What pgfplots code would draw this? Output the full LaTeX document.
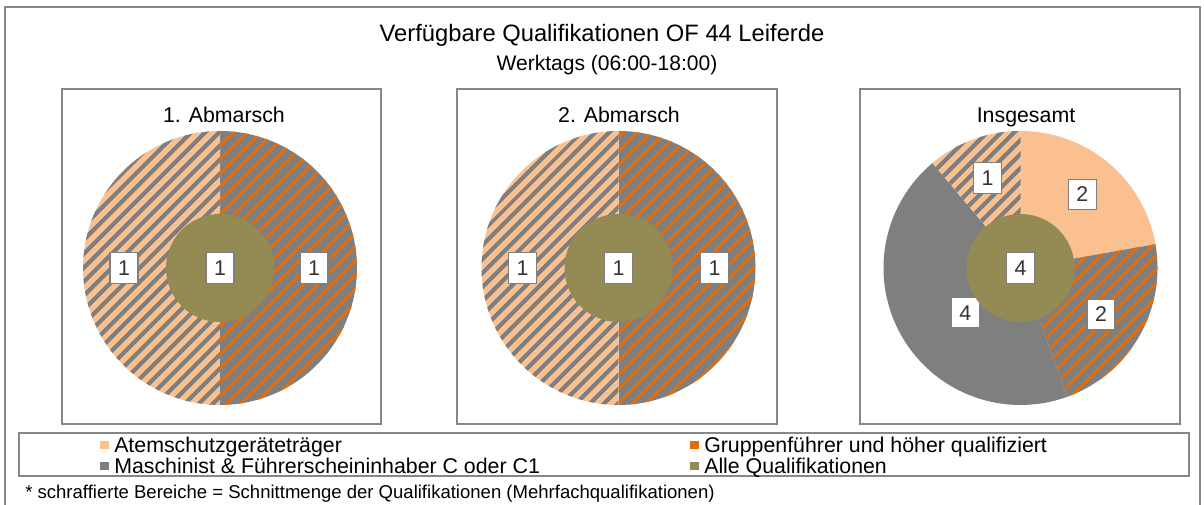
\documentclass[border=0pt]{standalone}
\usepackage{fontspec}
\setmainfont{Liberation Sans}
\usepackage{pgfplots}
\pgfplotsset{compat=1.18}
\usetikzlibrary{patterns.meta}

\definecolor{lightor}{HTML}{FAC090}
\definecolor{darkor}{HTML}{E46C0A}
\definecolor{grayc}{HTML}{7F7F7F}
\definecolor{olive}{HTML}{948A54}
\definecolor{framec}{HTML}{878787}

\tikzset{
  atem/.style={fill=lightor},
  masch/.style={fill=grayc},
  alle/.style={fill=olive},
  % schraffiert: Atemschutz + Maschinist
  atemmasch/.style={fill=lightor, postaction={pattern={Lines[angle=45,distance=7.4pt,line width=3.2pt]}, pattern color=grayc}},
  % schraffiert: Gruppenfuehrer + Maschinist
  gruppmasch/.style={fill=grayc, postaction={pattern={Lines[angle=45,distance=7.4pt,line width=2.3pt]}, pattern color=darkor}},
  lbl/.style={draw=grayc, line width=0.9pt, fill=white, text=black!80,
    font=\fontsize{16}{18}\selectfont, minimum width=21pt, minimum height=23pt, inner sep=1pt},
  pframe/.style={draw=framec, line width=1.1pt},
}
\pgfplotsset{
  pie axis/.style={hide axis, x=0.75pt, y=0.75pt, xmin=-140, xmax=140, ymin=-140, ymax=140,
    anchor=origin, clip=false},
}

% running total of one ring
\newcommand{\piestart}[2]{\gdef\piecum{0}\gdef\pietot{#1}\gdef\R{#2}}
% [label angle shift]{value}{style}{label radius}
\newcommand{\slice}[4][0]{%
  \pgfmathsetmacro\aA{90-360*\piecum/\pietot}%
  \pgfmathsetmacro\newcum{\piecum+#2}%
  \pgfmathsetmacro\aB{90-360*\newcum/\pietot}%
  \pgfmathsetmacro\aM{(\aA+\aB)/2+#1}%
  \addplot[#3, draw=none, domain=\aB:\aA, samples=90, variable=\t]
    ({\R*cos(\t)},{\R*sin(\t)}) -- (axis cs:0,0) -- cycle;
  \pgfmathsetmacro\lx{#4*cos(\aM)}%
  \pgfmathsetmacro\ly{#4*sin(\aM)}%
  \edef\tmp{\noexpand\node[lbl] at (axis cs:\lx,\ly) {#2};}\tmp
  \xdef\piecum{\newcum}%
}

\begin{document}
\begin{tikzpicture}[x=0.75pt,y=0.75pt]
\useasboundingbox (0,0) rectangle (1204,505);
\fill[white] (0,0) rectangle (1204,505);
\draw[draw=framec, line width=0.9pt] (5,498) rectangle (1200,-10);

\node[anchor=base, font=\fontsize{17.8}{20}\selectfont] at (602,463.5) {Verfügbare Qualifikationen OF 44 Leiferde};
\node[anchor=base, font=\fontsize{15.8}{18}\selectfont] at (607,434.5) {Werktags (06:00-18:00)};

\draw[pframe] (62,416) rectangle (381,81);
\draw[pframe] (457,416) rectangle (777,81);
\draw[pframe] (860,416) rectangle (1180,81);

\begin{scope}[every node/.style={anchor=base, font=\fontsize{16}{18}\selectfont}]
\node at (224,382.4) {1. Abmarsch};
\node at (619,382.4) {2. Abmarsch};
\node at (1026,382.4) {Insgesamt};
\end{scope}

% 1. Abmarsch
\begin{axis}[pie axis, at={({220*0.75pt},{237*0.75pt})}]
  \piestart{2}{137}
  \slice{1}{gruppmasch}{94}
  \slice{1}{atemmasch}{96}
  \piestart{1}{54}
  \slice{1}{alle}{0}
\end{axis}

% 2. Abmarsch
\begin{axis}[pie axis, at={({618.5*0.75pt},{237*0.75pt})}]
  \piestart{2}{137}
  \slice{1}{gruppmasch}{96}
  \slice{1}{atemmasch}{96}
  \piestart{1}{54}
  \slice{1}{alle}{0}
\end{axis}

% Insgesamt
\begin{axis}[pie axis, at={({1020.5*0.75pt},{237*0.75pt})}]
  \piestart{9}{137}
  \slice{2}{atem}{96}
  \slice{2}{gruppmasch}{93}
  \slice[9]{4}{masch}{71}
  \slice{1}{atemmasch}{96}
  \piestart{4}{54}
  \slice{4}{alle}{0}
\end{axis}

% legend
\draw[pframe] (19,72) rectangle (1189,29);
\fill[lightor] (100,64) rectangle (109,55.5);
\fill[grayc] (100,43) rectangle (109,34.5);
\fill[darkor] (690,64) rectangle (699,55.5);
\fill[olive] (690,43) rectangle (699,34.5);
\begin{scope}[every node/.style={anchor=base west, inner sep=0pt, font=\fontsize{16}{18}\selectfont}]
\node at (114,52.4) {Atemschutzgeräteträger};
\node at (114,31.4) {Maschinist \& Führerscheininhaber C oder C1};
\node at (704,52.4) {Gruppenführer und höher qualifiziert};
\node at (704,31.4) {Alle Qualifikationen};
\end{scope}

\node[anchor=base west, inner sep=0pt, font=\fontsize{13.9}{16}\selectfont] at (25,6.5)
  {* schraffierte Bereiche = Schnittmenge der Qualifikationen (Mehrfachqualifikationen)};
\end{tikzpicture}
\end{document}
